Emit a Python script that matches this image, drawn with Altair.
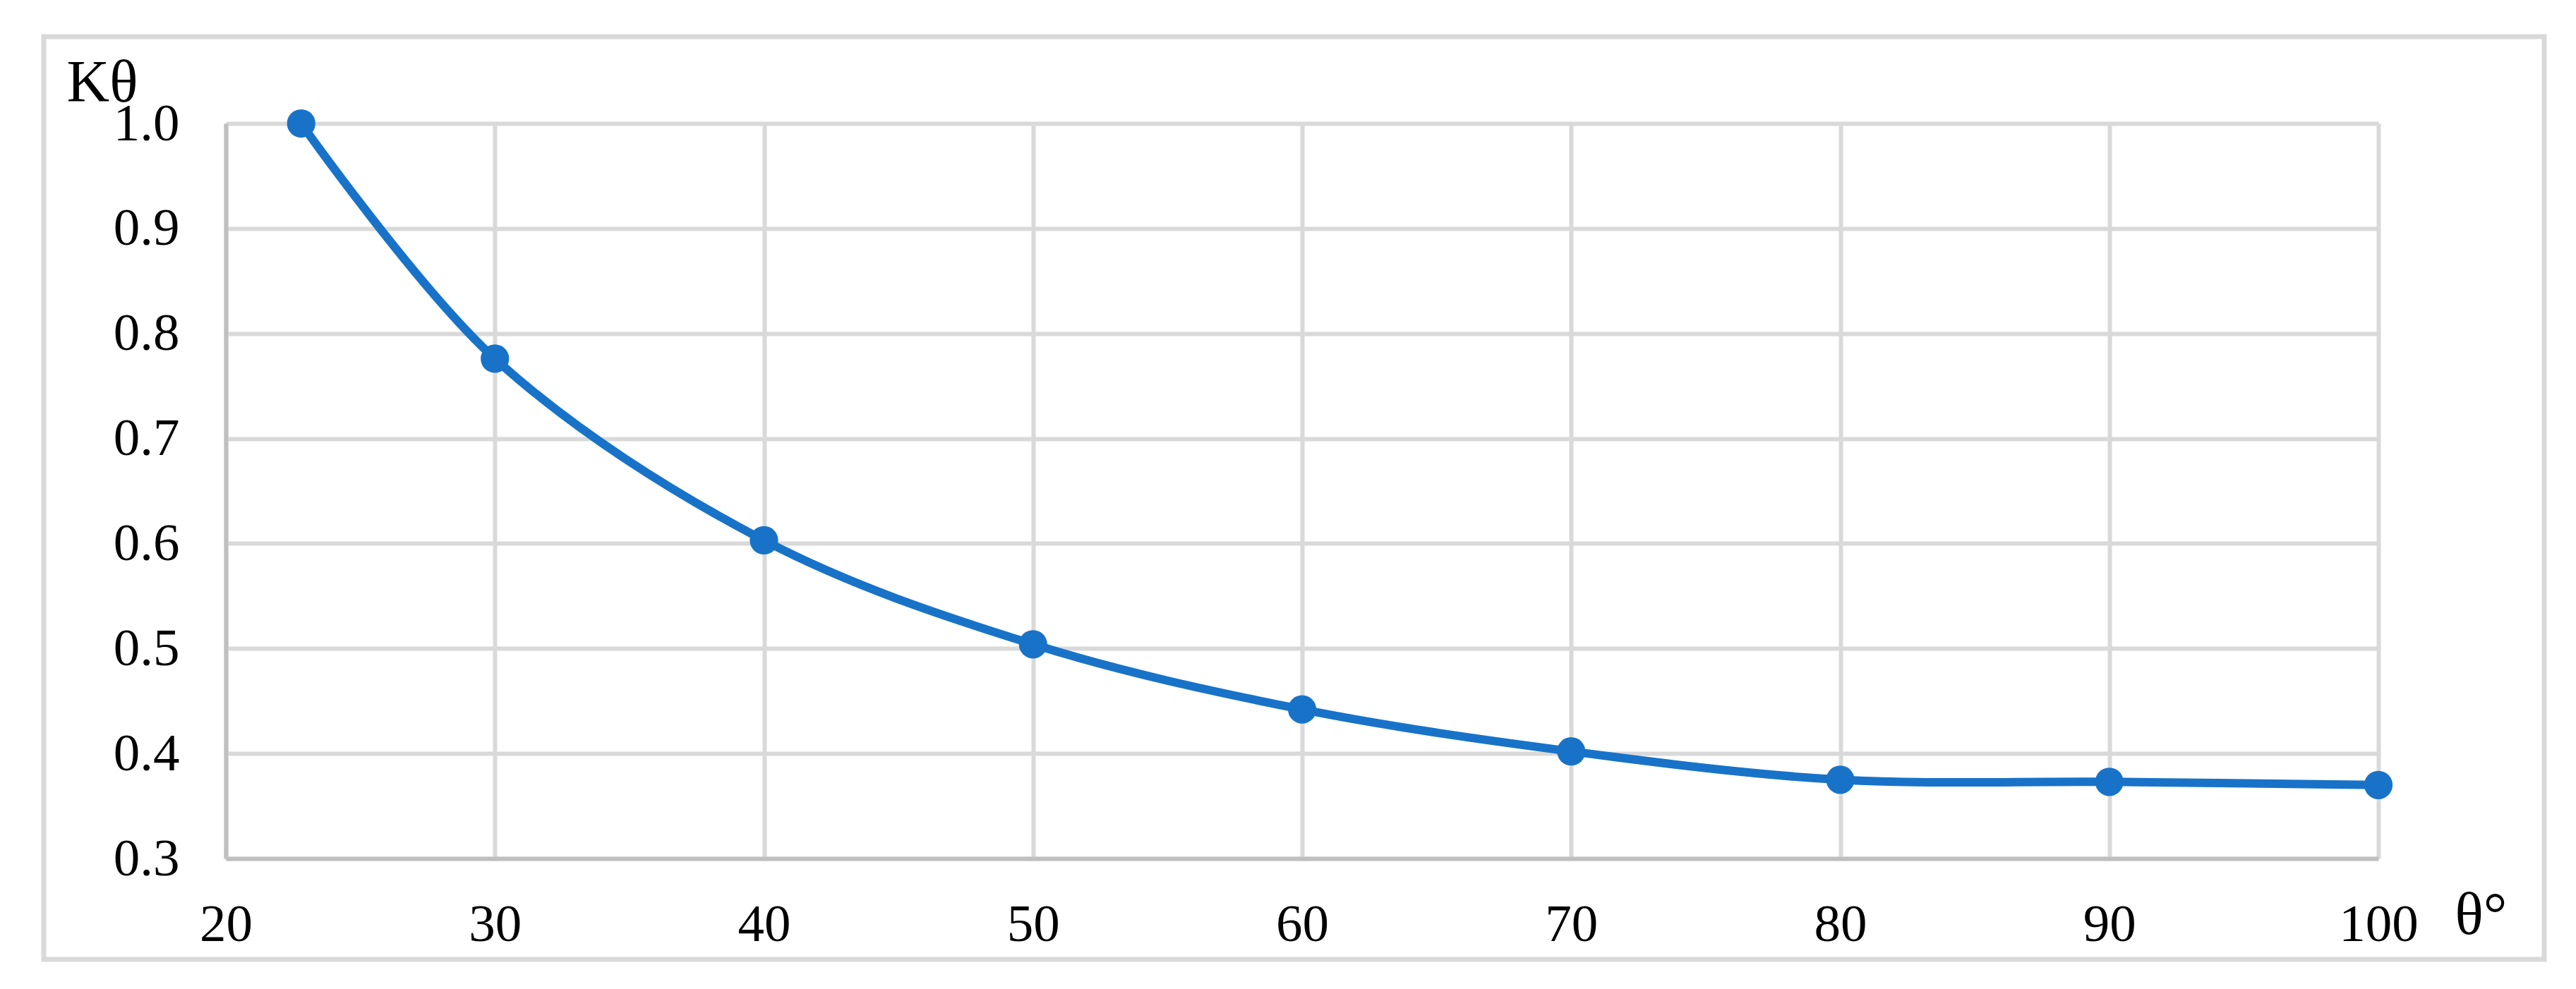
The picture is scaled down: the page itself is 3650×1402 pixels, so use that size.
import altair as alt
import pandas as pd

# data
theta = [22.8, 30, 40, 50, 60, 70, 80, 90, 100]
k_theta = [1.0, 0.776, 0.603, 0.504, 0.442, 0.402, 0.375, 0.373, 0.370]
x_ticks = [20, 30, 40, 50, 60, 70, 80, 90, 100]
y_ticks = [0.3, 0.4, 0.5, 0.6, 0.7, 0.8, 0.9, 1.0]

df = pd.DataFrame({"theta": theta, "k": k_theta})
frame_df = pd.DataFrame({"one": [1]})

BLUE = "#1873C8"
FONT = "Liberation Serif"

x_enc = alt.X(
    "theta:Q",
    scale=alt.Scale(domain=[20, 100], nice=False, zero=False),
    axis=alt.Axis(
        values=x_ticks,
        title="θ°",
        titleX=3158,
        titleY=106,
        titleAlign="left",
        titleBaseline="alphabetic",
        labelBaseline="alphabetic",
        labelPadding=116,
        labelFlush=False,
    ),
)
y_enc = alt.Y(
    "k:Q",
    scale=alt.Scale(domain=[0.3, 1.0], nice=False, zero=False),
    axis=alt.Axis(
        values=y_ticks,
        format=".1f",
        title="Kθ",
        titleAngle=0,
        titleX=-226,
        titleY=-32,
        titleAlign="left",
        titleBaseline="alphabetic",
        labelPadding=66,
        labelFlush=False,
    ),
)

line = alt.Chart(df).mark_line(
    interpolate="catmull-rom", color=BLUE, strokeWidth=12
).encode(x=x_enc, y=y_enc)

points = alt.Chart(df).mark_circle(
    color=BLUE, size=1620, opacity=1
).encode(x="theta:Q", y="k:Q")

frame = alt.Chart(frame_df).mark_rect(
    filled=False, stroke="#d9d9d9", strokeWidth=7, fill=None
).encode(
    x=alt.value(-258), x2=alt.value(3285), y=alt.value(-123), y2=alt.value(1185)
)

chart = (
    alt.layer(frame, line, points)
    .properties(
        width=3050,
        height=1042,
        autosize=alt.AutoSizeParams(type="none"),
        padding={"left": 312, "top": 167, "right": 256, "bottom": 161},
        background="white",
    )
    .configure_view(stroke=None)
    .configure_axis(
        labelFont=FONT,
        labelFontSize=75,
        labelColor="black",
        titleFont=FONT,
        titleFontSize=84,
        titleFontWeight="normal",
        titleColor="black",
        ticks=False,
        grid=True,
        gridColor="#d9d9d9",
        gridWidth=6,
        gridOpacity=1,
        domainColor="#bfbfbf",
        domainWidth=6,
        domainOpacity=1,
    )
)

chart.save("out.html", embed_options={"renderer": "svg", "actions": False})
